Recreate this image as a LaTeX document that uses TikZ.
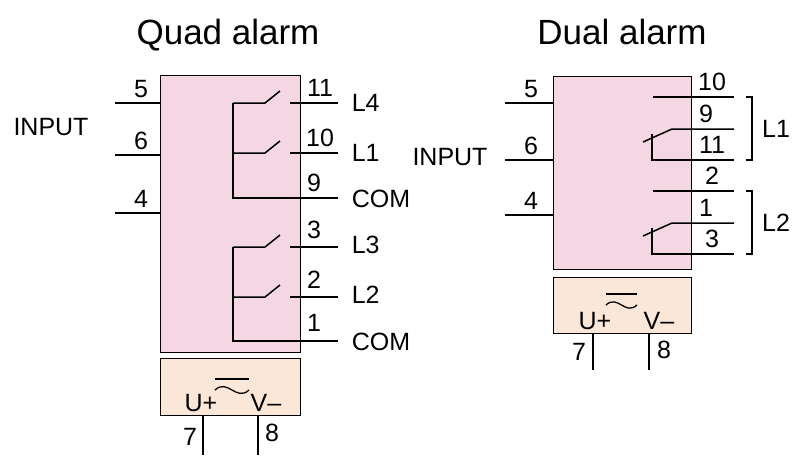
\documentclass[tikz,border=0pt]{standalone}
\usepackage{fontspec}
\setmainfont{Liberation Sans}
\definecolor{pinkf}{HTML}{F5D6E3}
\definecolor{beige}{HTML}{FAE7D7}
\begin{document}
\begin{tikzpicture}[x=1pt,y=-1pt,line width=1.5pt,
  lab/.style={font=\fontsize{25}{25}\selectfont,inner sep=0pt},
  ttl/.style={font=\fontsize{35}{35}\selectfont,inner sep=0pt,anchor=base},
  box/.style={draw,line width=1.3pt}]
\useasboundingbox (0,0) rectangle (800,467);
% titles
\node[ttl] (t1) at (228,44) {Quad alarm};
\node[ttl] (t2) at (622,44) {Dual alarm};
% ---------- quad ----------
\node[box,fill=pinkf,minimum width=140pt,minimum height=277pt,anchor=north west] (qb) at (160,75) {};
\node[box,fill=beige,minimum width=140pt,minimum height=57pt,anchor=north west] (qp) at (160,358) {};
\node[lab] (qin) at (51,127) {INPUT};
\foreach \y/\n in {103/5,155/6,213/4}{
  \draw (115,\y) -- (160,\y);
  \node[lab] at (141,\y-14) {\n};}
% upper group
\draw (233,103) -- (233,198) -- (338,198);
\foreach \y/\n/\l in {103/11/L4,153/10/L1}{
  \draw (233,\y) -- (265,\y) -- (280,\y-12);
  \draw (290,\y) -- (338,\y);
  \node[lab] at (320,\y-15) {\n};
  \node[lab,anchor=west] at (351,\y) {\l};}
\node[lab] at (314,183) {9};
\node[lab,anchor=west] at (351,199) {COM};
% lower group
\draw (233,247) -- (233,341) -- (338,341);
\foreach \y/\n/\l in {247/3/L3,297/2/L2}{
  \draw (233,\y) -- (265,\y) -- (280,\y-12);
  \draw (290,\y) -- (338,\y);
  \node[lab] at (314,\y-17) {\n};
  \node[lab,anchor=west] at (351,\y-2) {\l};}
\node[lab] at (314,323) {1};
\node[lab,anchor=west] at (351,342) {COM};
% power
\node[lab] at (201,403) {U+};
\node[lab] at (266,403) {V\textendash};
\draw[line width=1.3pt] (215,379) -- (249,379);
\draw[line width=1.3pt] (215,390) .. controls (228,378) and (236,402) .. (249,390);
\draw (203,415) -- (203,455);
\draw (258,415) -- (258,455);
\node[lab] at (190,437) {7};
\node[lab] at (272,433) {8};
% ---------- dual ----------
\node[box,fill=pinkf,minimum width=138pt,minimum height=193pt,anchor=north west] (db) at (553,76) {};
\node[box,fill=beige,minimum width=138pt,minimum height=56pt,anchor=north west] (dp) at (553,277) {};
\node[lab] (din) at (450,157) {INPUT};
\foreach \y/\n in {103/5,160/6,215/4}{
  \draw (505,\y) -- (553,\y);
  \node[lab] at (531,\y-14) {\n};}
\foreach \o/\a/\b/\c/\l in {0/10/9/11/L1,94/2/1/3/L2}{
  \draw (653,97+\o) -- (734,97+\o);
  \draw (734,129+\o) -- (672,129+\o) -- (643,142+\o);
  \draw (652,134+\o) -- (652,160+\o) -- (734,160+\o);
  \draw[line width=1.2pt] (746,97+\o) -- (752,97+\o) -- (752,160+\o) -- (746,160+\o);
  \node[lab] at (712,82+\o) {\a};
  \node[lab] at (706,114+\o) {\b};
  \node[lab] at (712,145+\o) {\c};
  \node[lab] at (776,129+\o) {\l};}
\node[lab] at (595,321) {U+};
\node[lab] at (659,321) {V\textendash};
\draw[line width=1.3pt] (606,294) -- (637,294);
\draw[line width=1.3pt] (606,305) .. controls (618,294) and (625,316) .. (637,305);
\draw (593,333) -- (593,370);
\draw (649,333) -- (649,370);
\node[lab] at (579,352) {7};
\node[lab] at (664,350) {8};
\end{tikzpicture}
\end{document}
